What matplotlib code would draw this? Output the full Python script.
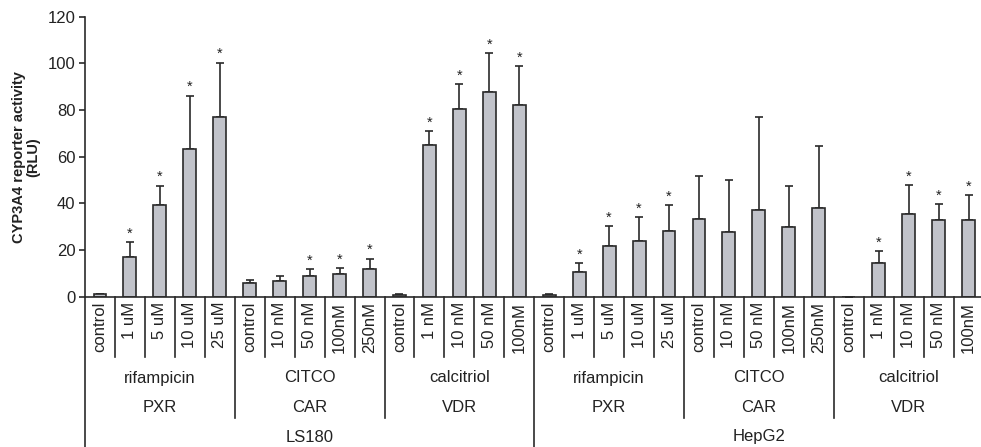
import numpy as np
import matplotlib.pyplot as plt

# reporter activity, one bar per treatment, read left to right
cell_lines = ['LS180', 'HepG2']
receptors  = ['PXR', 'CAR', 'VDR']
compounds  = ['rifampicin', 'CITCO', 'calcitriol']
doses = [['control', '1 uM', '5 uM', '10 uM', '25 uM'],
         ['control', '10 nM', '50 nM', '100nM', '250nM'],
         ['control', '1 nM', '10 nM', '50 nM', '100nM']]

mean_ls180 = [1.1, 17.1, 39.3, 63.2, 77.2,
              5.7, 6.7, 8.9, 9.6, 12.0,
              0.8, 64.9, 80.4, 87.9, 82.0]
err_ls180  = [0.0, 6.2, 8.3, 23.0, 23.1,
              1.5, 2.3, 2.8, 2.6, 4.3,
              0.5, 6.1, 10.8, 16.4, 16.9]
sig_ls180  = [0, 1, 1, 1, 1,
              0, 0, 1, 1, 1,
              0, 1, 1, 1, 1]

mean_hepg2 = [0.8, 10.7, 21.6, 23.7, 28.3,
              33.4, 27.9, 37.2, 30.0, 37.9,
              0.0, 14.6, 35.4, 32.9, 32.9]
err_hepg2  = [0.5, 3.7, 8.7, 10.5, 11.0,
              18.3, 22.1, 40.0, 17.6, 26.6,
              0.0, 5.0, 12.6, 6.8, 10.6]
sig_hepg2  = [0, 1, 1, 1, 1,
              0, 0, 0, 0, 0,
              0, 1, 1, 1, 1]


def main():
    plt.rcParams['font.family'] = ['Liberation Sans', 'DejaVu Sans']
    txtcol = '#222222'
    linecol = '#2a2a2a'
    fs = 12

    means = np.array(mean_ls180 + mean_hepg2)
    errs  = np.array(err_ls180 + err_hepg2)
    sigs  = np.array(sig_ls180 + sig_hepg2)
    labels = [d for _ in cell_lines for grp in doses for d in grp]
    n = len(means)
    x = np.arange(n) + 0.5

    W, H = 981, 447
    fig = plt.figure(figsize=(W/100, H/100), dpi=100)
    ax = fig.add_axes([85/W, (H-296.7)/H, 898.5/W, 280/H])

    ax.bar(x, means, width=0.43, color='#c1c3ca', edgecolor=linecol, linewidth=1.2, zorder=2)
    ax.errorbar(x, means, yerr=[np.zeros(n), errs], fmt='none', ecolor=linecol,
                elinewidth=1.2, capsize=3, capthick=1.2, zorder=1)
    for xi, m, e, s in zip(x, means, errs, sigs):
        if s:
            ax.annotate('*', (xi, m+e), xytext=(0, 1), textcoords='offset points',
                        ha='center', va='bottom', fontsize=10.5, color=txtcol)

    ax.set_xlim(0, n)
    ax.set_ylim(0, 120)
    ax.set_yticks(range(0, 121, 20))
    ax.tick_params(axis='y', direction='out', length=4, width=1.2, labelsize=fs,
                   colors=linecol, labelcolor=txtcol, pad=3)
    ax.set_xticks([])
    for side in ['top', 'right']:
        ax.spines[side].set_visible(False)
    for side in ['left', 'bottom']:
        ax.spines[side].set_linewidth(1.2)
        ax.spines[side].set_color(linecol)

    ax.set_ylabel('CYP3A4 reporter activity\n(RLU)', fontsize=10.5, fontweight='bold',
                  color=txtcol, linespacing=1.0, labelpad=5)

    # category table below the axis (y in data units, below zero)
    ypx = 280/120.
    def yd(px):
        return -(px - 296.7)/ypx

    for xi, lab in zip(x, labels):
        ax.text(xi, yd(302), lab, rotation=90, ha='center', va='top', fontsize=fs,
                color=txtcol, clip_on=False)

    per_grp = len(doses[0])
    per_line = per_grp*len(compounds)
    for b in range(n):
        if b % per_line == 0:
            y0 = yd(460)
        elif b % per_grp == 0:
            y0 = yd(418)
        else:
            y0 = yd(357)
        ax.plot([b, b], [0, y0], color=linecol, lw=1.2, clip_on=False)

    for i, cl in enumerate(cell_lines):
        for j, (cp, rc) in enumerate(zip(compounds, receptors)):
            xc = i*per_line + j*per_grp + per_grp/2
            ax.text(xc, yd(378), cp, ha='center', va='center', fontsize=fs,
                    color=txtcol, clip_on=False)
            ax.text(xc, yd(407), rc, ha='center', va='center', fontsize=fs,
                    color=txtcol, clip_on=False)
        ax.text(i*per_line + per_line/2, yd(437), cl, ha='center', va='center',
                fontsize=fs, color=txtcol, clip_on=False)

    fig.savefig('out.png', dpi=100)


if __name__ == '__main__':
    main()
